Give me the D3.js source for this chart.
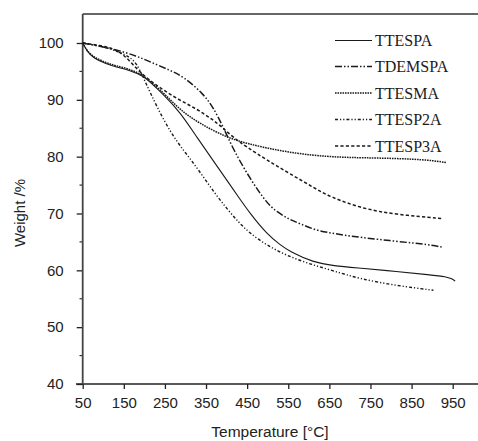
<!DOCTYPE html>
<html><head><meta charset="utf-8">
<script src="https://cdn.jsdelivr.net/npm/d3@7"></script>
<style>
html,body{margin:0;padding:0;background:#fff;}
svg{display:block;}
</style>
</head><body>
<svg id="chart" width="478" height="441"></svg>
<script>
// ---- data ----
const seriesNames = ["TTESPA", "TDEMSPA", "TTESMA", "TTESP2A", "TTESP3A"];
const xTicks = [50, 150, 250, 350, 450, 550, 650, 750, 850, 950];
const yTicks = [40, 50, 60, 70, 80, 90, 100];

const tTESPA = [50, 60, 76, 108, 130, 165, 197, 214, 250, 287, 327, 377, 405, 426, 457, 498, 530, 554, 611, 660, 724, 814, 895, 935, 948, 956];
const wTESPA = [100, 98.6, 97.3, 96.3, 95.8, 95.2, 94.2, 93.1, 90.7, 87.8, 83.5, 78.3, 75.4, 73.2, 70.0, 66.4, 64.5, 63.3, 61.4, 60.8, 60.4, 59.8, 59.2, 58.9, 58.5, 58.1];

const tDEMSPA = [50, 100, 133, 181, 214, 262, 295, 343, 368, 392, 416, 457, 498, 522, 554, 579, 619, 652, 676, 724, 814, 895, 923];
const wDEMSPA = [100, 99.3, 98.8, 97.7, 96.7, 95.2, 94.1, 91.1, 88.6, 85.2, 81.3, 76.1, 71.8, 70.3, 68.9, 68.2, 67.0, 66.6, 66.3, 65.8, 65.1, 64.5, 64.1];

const tTESMA = [50, 60, 76, 108, 130, 165, 197, 214, 250, 287, 335, 400, 449, 530, 611, 676, 732, 814, 895, 935];
const wTESMA = [100, 98.7, 97.5, 96.5, 96.0, 95.4, 94.3, 93.3, 91.0, 88.2, 85.8, 83.4, 82.3, 81.0, 80.2, 79.9, 79.8, 79.7, 79.4, 78.95];

const tTESP2A = [50, 100, 140, 165, 181, 197, 214, 246, 280, 310, 340, 370, 400, 430, 457, 498, 546, 603, 660, 724, 814, 903];
const wTESP2A = [100, 99.4, 98.4, 97.5, 96.4, 94.0, 91.3, 86.5, 82.5, 79.8, 76.8, 73.7, 70.9, 68.4, 66.5, 64.4, 62.6, 61.1, 59.9, 58.5, 57.3, 56.5];

const tTESP3A = [50, 100, 124, 150, 183, 210, 246, 287, 327, 365, 392, 416, 449, 498, 554, 611, 652, 733, 814, 927];
const wTESP3A = [100, 99.5, 99.0, 98.0, 95.3, 93.6, 91.7, 89.9, 88.4, 86.6, 85.0, 83.4, 81.7, 79.4, 77.0, 74.6, 72.9, 70.8, 69.8, 69.1];

const seriesT = [tTESPA, tDEMSPA, tTESMA, tTESP2A, tTESP3A];
const seriesW = [wTESPA, wDEMSPA, wTESMA, wTESP2A, wTESP3A];

// ---- styles ----
const dashes = [null, "7,2,1.5,2,1.5,2", "1.6,0.9", "3,2,1.2,2,1.2,2", "3.2,2.2"];
const widths = [1.1, 1.5, 1.5, 1.4, 1.5];

const svg = d3.select("#chart");
const x = d3.scaleLinear().domain([50, 950]).range([82.7, 452.7]);
const y = d3.scaleLinear().domain([40, 100]).range([384, 43]);
const sans = "'Liberation Sans', Arial, sans-serif";
const serif = "'Liberation Serif', 'Times New Roman', serif";

// frame: top line
svg.append("line").attr("x1", 82.7).attr("x2", 478).attr("y1", 14).attr("y2", 14)
  .attr("stroke", "#333").attr("stroke-width", 1.5);

// x axis
const xAxis = d3.axisBottom(x).tickValues(xTicks).tickSize(5).tickPadding(8).tickFormat(d3.format("d"));
const gx = svg.append("g").attr("transform", "translate(0,384)").call(xAxis);
gx.select(".domain").remove();
gx.append("line").attr("x1", 76).attr("x2", 478).attr("y1", 0).attr("y2", 0).attr("stroke", "#222").attr("stroke-width", 1.5);
gx.selectAll(".tick line").attr("stroke", "#222").attr("stroke-width", 1.3);
gx.selectAll(".tick text").attr("font-family", sans).attr("font-size", 15).attr("fill", "#222");

// y axis minor ticks
const yMinor = d3.range(45, 100, 10);
svg.append("g").selectAll("line").data(yMinor).join("line")
  .attr("x1", 79.5).attr("x2", 82.7)
  .attr("y1", d => y(d)).attr("y2", d => y(d))
  .attr("stroke", "#333").attr("stroke-width", 1.2);

const yAxis = d3.axisLeft(y).tickValues(yTicks).tickSize(6).tickPadding(13).tickFormat(d3.format("d"));
const gy = svg.append("g").attr("transform", "translate(82.7,0)").call(yAxis);
gy.select(".domain").remove();
gy.append("line").attr("x1", 0).attr("x2", 0).attr("y1", 14).attr("y2", 384).attr("stroke", "#444").attr("stroke-width", 1.8);
gy.selectAll(".tick line").attr("stroke", "#222").attr("stroke-width", 1.3);
gy.selectAll(".tick text").attr("font-family", sans).attr("font-size", 15).attr("fill", "#222");

// axis titles
svg.append("text").attr("x", 270).attr("y", 437).attr("text-anchor", "middle")
  .attr("font-family", sans).attr("font-size", 15.5).attr("fill", "#222").text("Temperature [°C]");
svg.append("text").attr("transform", "translate(25,213) rotate(-90)").attr("text-anchor", "middle")
  .attr("font-family", sans).attr("font-size", 15).attr("fill", "#222").text("Weight /%");

// curves
const line = d3.line().x(d => x(d[0])).y(d => y(d[1])).curve(d3.curveBasis);
seriesNames.forEach((name, i) => {
  const pts = seriesT[i].map((t, j) => [t, seriesW[i][j]]);
  svg.append("path").datum(pts).attr("d", line)
    .attr("fill", "none").attr("stroke", "#1a1a1a")
    .attr("stroke-width", widths[i])
    .attr("stroke-dasharray", dashes[i]);
});

// legend
const legendY = [40.5, 66.5, 93, 119.5, 146];
seriesNames.forEach((name, i) => {
  svg.append("line").attr("x1", 335).attr("x2", 372).attr("y1", legendY[i]).attr("y2", legendY[i])
    .attr("stroke", "#1a1a1a").attr("stroke-width", widths[i]).attr("stroke-dasharray", dashes[i]);
  svg.append("text").attr("x", 375).attr("y", legendY[i] + 5.5)
    .attr("font-family", serif).attr("font-size", 16).attr("fill", "#1a1a1a").text(name);
});
</script>
</body></html>
